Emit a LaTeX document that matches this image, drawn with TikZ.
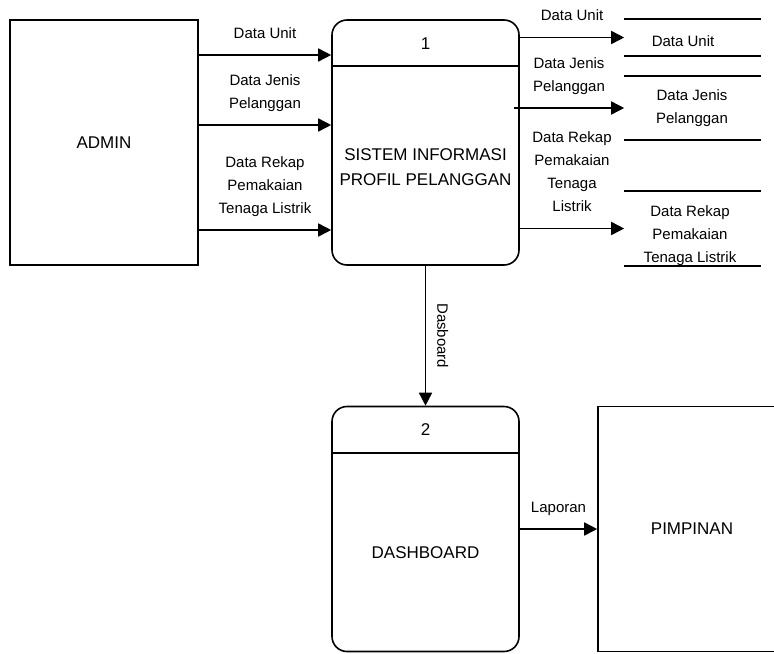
\documentclass[tikz,border=0pt]{standalone}
\usepackage{fontspec}
\setmainfont{Liberation Sans}
\usetikzlibrary{arrows.meta,positioning,calc}
\newcommand{\lblfont}{\fontsize{7.5}{11.5}\selectfont}
\newcommand{\boxfont}{\fontsize{8.5}{12.5}\selectfont}

\begin{document}
\begin{tikzpicture}[
    x=0.5pt,y=-0.5pt,
    line width=0.8pt,
    entbox/.style={rectangle,draw,minimum width=94pt,minimum height=122.5pt,
                   inner sep=0pt,font=\boxfont},
    procbox/.style={rectangle,draw,rounded corners=7.5pt,
                    minimum width=93.5pt,minimum height=122.5pt,inner sep=0pt},
    proctext/.style={font=\boxfont,align=center,inner sep=0pt},
    storebox/.style={rectangle,minimum width=67.5pt,inner sep=0pt},
    storetext/.style={font=\lblfont,align=center,inner sep=0pt},
    flow/.style={-{Triangle[length=6.5pt,width=6.5pt]}},
    flowlbl/.style={font=\lblfont,align=center,text depth=0pt,
                    inner xsep=0pt,inner ysep=8pt}
  ]
  \useasboundingbox (0,0) rectangle (774,653);
  % External entities
  \node[entbox] (admin)    at (104,142.5) {ADMIN};
  \node[entbox] (pimpinan) at (692,529)   {PIMPINAN};
  % Process 1
  \node[procbox]  (p1)     at (425.5,142.5) {};
  \draw ($(p1.north west)+(0,47)$) -- ($(p1.north east)+(0,47)$);
  \node[proctext] (p1num)  at (425.5,43.5) {1};
  \node[proctext] (p1name) at (425.5,167)  {SISTEM INFORMASI\\PROFIL PELANGGAN};
  % Process 2
  \node[procbox]  (p2)     at (425.5,529) {};
  \draw ($(p2.north west)+(0,47)$) -- ($(p2.north east)+(0,47)$);
  \node[proctext] (p2num)  at (425.5,429.5) {2};
  \node[proctext] (p2name) at (425.5,552.5) {DASHBOARD};
  % Data stores
  \node[storebox,minimum height=17.5pt] (s1) at (692.5,37.5)  {};
  \node[storebox,minimum height=31pt]   (s2) at (692.5,108)   {};
  \node[storebox,minimum height=36.5pt] (s3) at (692.5,228.5) {};
  \draw (s1.north west) -- (s1.north east) (s1.south west) -- (s1.south east);
  \draw (s2.north west) -- (s2.north east) (s2.south west) -- (s2.south east);
  \draw (s3.north west) -- (s3.north east) (s3.south west) -- (s3.south east);
  \node[storetext] (s1name) at (683,41)    {Data Unit};
  \node[storetext] (s2name) at (692,108.5) {Data Jenis\\Pelanggan};
  \node[storetext] (s3name) at (690,236)   {Data Rekap\\Pemakaian\\Tenaga Listrik};
  % Flows admin -> process 1
  \coordinate (fa) at (0,55);
  \coordinate (fb) at (0,125);
  \coordinate (fc) at (0,230);
  \draw[flow] (admin.east |- fa) -- node[flowlbl,above] {Data Unit} (p1.west |- fa);
  \draw[flow] (admin.east |- fb) -- node[flowlbl,above] {Data Jenis\\Pelanggan} (p1.west |- fb);
  \draw[flow] (admin.east |- fc) -- node[flowlbl,above] {Data Rekap\\Pemakaian\\Tenaga Listrik} (p1.west |- fc);
  % Flows process 1 -> stores
  \draw[flow] (p1.east |- s1.west) -- node[flowlbl,above] {Data Unit} (s1.west);
  \draw[flow] ($(p1.east |- s2.west)+(-6,0)$) -- node[flowlbl,above] {Data Jenis\\Pelanggan} (s2.west);
  \draw[flow] (p1.east |- s3.west) -- node[flowlbl,above] {Data Rekap\\Pemakaian\\Tenaga\\Listrik} (s3.west);
  % Flows to dashboard and pimpinan
  \draw[flow] (p1.south) -- node[flowlbl,midway,rotate=-90,anchor=south,inner ysep=5.5pt] {Dasboard} (p2.north);
  \draw[flow] (p2.east) -- node[flowlbl,above] {Laporan} (pimpinan.west);
\end{tikzpicture}
\end{document}
